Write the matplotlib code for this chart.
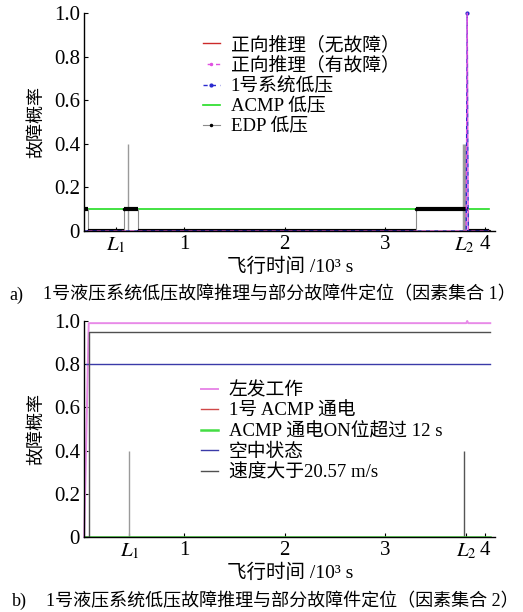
import matplotlib
matplotlib.use("Agg")
import matplotlib.pyplot as plt

plt.rcParams['font.family'] = ['Liberation Serif', 'Noto Sans CJK SC']
plt.rcParams['mathtext.fontset'] = 'stix'

# ---- data (time in 10^3 s, probability) ----
# panel a) factor set 1
a_L1, a_L2 = 0.32, 3.79
a_spike_t = [0.44, 3.79]
a_spike_h = [0.4, 0.4]
fwd_ok_t = [0.0, 4.04]
fwd_ok_v = [0.0, 0.0]
fwd_fault_t = [0.0, 3.81, 3.82, 3.83, 4.04]
fwd_fault_v = [0.0, 0.0, 1.0, 0.0, 0.0]
sys1_t = [0.0, 3.81, 3.82, 3.83, 4.04]
sys1_v = [0.0, 0.0, 1.0, 0.0, 0.0]
acmp_t = [0.0, 4.04]
acmp_v = [0.1, 0.1]
edp_t = [0.0, 0.035, 0.40, 0.54, 3.31, 3.83, 4.04]
edp_v = [0.1, 0.0, 0.1, 0.0, 0.1, 0.0, 0.0]

# panel b) factor set 2
b_L1, b_L2 = 0.45, 3.81
b_spike_t = [0.45, 3.79]
b_spike_h = [0.4, 0.4]
left_eng_t = [0.0, 0.045, 3.81, 3.82, 3.83, 4.05]
left_eng_v = [0.0, 0.99, 0.99, 1.0, 0.99, 0.99]
acmp_pwr_t = [0.0, 4.05]
acmp_pwr_v = [0.0, 0.0]
acmp_on_t = [0.0, 4.05]
acmp_on_v = [0.0, 0.0]
air_t = [0.02, 4.05]
air_v = [0.8, 0.8]
speed_t = [0.0, 0.045, 4.05]
speed_v = [0.0, 0.95, 0.95]

yticks = [0, 0.2, 0.4, 0.6, 0.8, 1.0]
ytick_labels = ['0', '0.2', '0.4', '0.6', '0.8', '1.0']


def style_axes(ax, L1, L2):
    ax.set_xlim(0, 4.1)
    ax.set_ylim(0, 1.0)
    for s in ['top', 'right']:
        ax.spines[s].set_visible(False)
    ax.spines['left'].set_linewidth(1.0)
    ax.spines['bottom'].set_linewidth(1.0)
    ax.set_xticks([L1, 1, 2, 3, L2, 4])
    ax.set_xticklabels([r'$L_1$', '1', '2', '3', r'$L_2$', '4'])
    ax.set_yticks(yticks)
    ax.set_yticklabels(ytick_labels)
    ax.tick_params(direction='in', length=3, labelsize=15, pad=3)
    ax.set_ylabel('故障概率', fontsize=13, labelpad=6)
    ax.set_xlabel('飞行时间 /10³ s', fontsize=14, labelpad=2)


fig = plt.figure(figsize=(5.23, 6.12), dpi=100)
ax1 = fig.add_axes([0.161, 0.6225, 0.786, 0.356])
ax2 = fig.add_axes([0.161, 0.1225, 0.786, 0.353])

# ---- panel a ----
ax1.vlines(a_spike_t, 0, a_spike_h, colors='#9a9a9a', linewidth=[1.0, 2.5])
ax1.plot(fwd_ok_t, fwd_ok_v, color='#cc2a2a', lw=1.0, label='正向推理（无故障）')
ax1.plot(acmp_t, acmp_v, color='#22dd22', lw=1.2, label='ACMP 低压')
ax1.step(edp_t, edp_v, where='post', color='#8c8c8c', lw=0.8,
         marker='.', markersize=3, mfc='black', mec='black', label='EDP 低压')
ax1.hlines(edp_v[:-1], edp_t[:-1], edp_t[1:], colors='black', linewidth=3)
ax1.plot(sys1_t, sys1_v, color='#2a2ad0', lw=1.0, linestyle=(0, (3, 3)),
         marker='.', markersize=4, markevery=[2], label='1号系统低压', clip_on=False)
ax1.plot(fwd_fault_t, fwd_fault_v, color='#e050e0', lw=1.0, linestyle=(3, (3, 3)),
         marker='.', markersize=3, markevery=[], label='正向推理（有故障）', clip_on=False)
style_axes(ax1, a_L1, a_L2)
h, l = ax1.get_legend_handles_labels()
order = [0, 4, 3, 1, 2]
ax1.legend([h[i] for i in order], [l[i] for i in order], loc='upper left',
           bbox_to_anchor=(0.27, 0.93), frameon=False, fontsize=13.5,
           handlelength=0.9, handletextpad=0.6, labelspacing=0.16, borderaxespad=0)

# ---- panel b ----
ax2.vlines(b_spike_t, 0, b_spike_h, colors=['#9a9a9a', '#555555'], linewidth=1.0)
ax2.plot(left_eng_t, left_eng_v, color='#e88ae8', lw=1.4, label='左发工作', clip_on=False)
ax2.plot(acmp_pwr_t, acmp_pwr_v, color='#d04848', lw=1.0, label='1号 ACMP 通电')
ax2.plot(acmp_on_t, acmp_on_v, color='#44dd44', lw=1.8, label='ACMP 通电ON位超过 12 s')
ax2.plot(air_t, air_v, color='#3a3aa8', lw=1.0, label='空中状态')
ax2.step(speed_t, speed_v, where='post', color='#505050', lw=1.0, label='速度大于20.57 m/s')
style_axes(ax2, b_L1, b_L2)
ax2.legend(loc='upper left', bbox_to_anchor=(0.265, 0.75), frameon=False, fontsize=13.5,
           handlelength=0.9, handletextpad=0.6, labelspacing=0.16, borderaxespad=0)

# ---- captions ----
fig.text(0.018, 0.518, 'a)', fontsize=13, va='center')
fig.text(0.082, 0.518, '1号液压系统低压故障推理与部分故障件定位（因素集合 1）', fontsize=13, va='center')
fig.text(0.022, 0.017, 'b)', fontsize=13, va='center')
fig.text(0.088, 0.017, '1号液压系统低压故障推理与部分故障件定位（因素集合 2）', fontsize=13, va='center')

fig.savefig('out.png', dpi=100)
